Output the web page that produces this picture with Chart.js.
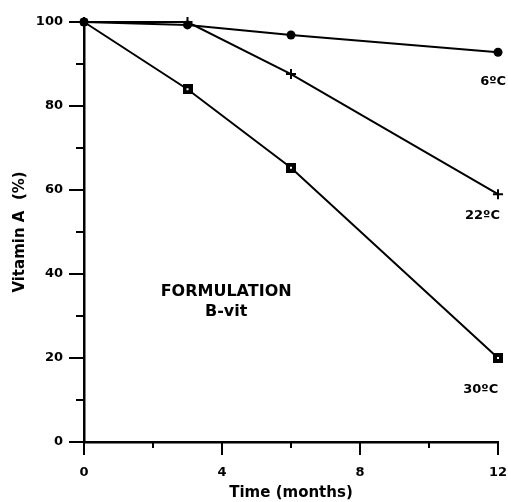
<!DOCTYPE html>
<html>
<head>
<meta charset="utf-8">
<script src="https://cdn.jsdelivr.net/npm/chart.js@4.4.1/dist/chart.umd.min.js"></script>
<style>
html,body{margin:0;padding:0;background:#fff;}
#wrap{width:508px;height:502px;position:relative;}
</style>
</head>
<body>
<div id="wrap"><canvas id="c" width="508" height="502"></canvas></div>
<script>
// ---- data ----
const months = [0, 3, 6, 12];
const temp6 = [100, 99.3, 96.9, 92.8];
const temp22 = [100, 100, 87.6, 59];
const temp30 = [100, 84, 65.3, 20];
const seriesNames = ['6\u00BAC', '22\u00BAC', '30\u00BAC'];
const yTicksMajor = [0, 20, 40, 60, 80, 100];
const xTicksMajor = [0, 4, 8, 12];

const FONT = "'DejaVu Sans', Arial, sans-serif";

function pts(ys){ return months.map((m,i)=>({x:m,y:ys[i]})); }

// square marker with tiny white centre
const sq = document.createElement('canvas');
sq.width = 10; sq.height = 10;
(function(){const g=sq.getContext('2d');g.fillStyle='#000';g.fillRect(0,0,10,10);g.fillStyle='#fff';g.fillRect(4,4,2,2);})();

const annot = {
  id:'annot',
  afterDraw(chart){
    const ctx = chart.ctx, xs = chart.scales.x, ys = chart.scales.y;
    ctx.save();
    ctx.strokeStyle = '#000'; ctx.lineWidth = 2;
    for (let v = 0; v <= 100; v += 10) {
      const p = Math.round(ys.getPixelForValue(v));
      const len = (v % 20 === 0) ? 15 : 8;
      ctx.beginPath(); ctx.moveTo(xs.left - len, p); ctx.lineTo(xs.left, p); ctx.stroke();
    }
    for (let v = 0; v <= 12; v += 2) {
      const p = Math.round(xs.getPixelForValue(v));
      const len = (v % 4 === 0) ? 13 : 6;
      ctx.beginPath(); ctx.moveTo(p, ys.bottom); ctx.lineTo(p, ys.bottom + len); ctx.stroke();
    }
    ctx.fillStyle = '#000';
    ctx.textAlign = 'center'; ctx.textBaseline = 'middle';
    ctx.font = 'bold 13px ' + FONT;
    const labPos = [[11.86, 85.7], [11.55, 54], [11.5, 12.4]];
    seriesNames.forEach((t,i)=>{
      ctx.fillText(t, xs.getPixelForValue(labPos[i][0]), ys.getPixelForValue(labPos[i][1]));
    });
    ctx.font = 'bold 16px ' + FONT;
    ctx.fillText('FORMULATION', xs.getPixelForValue(4.12), ys.getPixelForValue(35.7));
    ctx.fillText('B-vit', xs.getPixelForValue(4.12), ys.getPixelForValue(31));
    ctx.restore();
  }
};

new Chart(document.getElementById('c'), {
  type: 'line',
  data: {
    datasets: [
      { label: seriesNames[0], data: pts(temp6), borderColor:'#000', backgroundColor:'#000', borderWidth:2,
        pointStyle:'circle', pointRadius:4.5, pointBorderWidth:0, clip:false, tension:0 },
      { label: seriesNames[1], data: pts(temp22), borderColor:'#000', backgroundColor:'#000', borderWidth:2,
        pointStyle:'cross', pointRadius:5, pointBorderWidth:2, clip:false, tension:0 },
      { label: seriesNames[2], data: pts(temp30), borderColor:'#000', backgroundColor:'#000', borderWidth:2,
        pointStyle:(c)=> c.dataIndex === 0 ? 'rect' : sq, pointRadius:5, pointBorderWidth:0, clip:false, tension:0 }
    ]
  },
  options: {
    responsive:false, animation:false, devicePixelRatio:1,
    layout:{ padding:{ left:0, top:22, right:10, bottom:0 } },
    plugins:{ legend:{display:false}, tooltip:{enabled:false} },
    scales:{
      x:{
        type:'linear', min:0, max:12,
        afterFit(s){ s.height = 60; s.paddingLeft = 0; s.paddingRight = 0; },
        afterBuildTicks(s){ s.ticks = xTicksMajor.map(v=>({value:v})); },
        grid:{ drawOnChartArea:false, drawTicks:false },
        border:{ display:true, color:'#000', width:2.5 },
        ticks:{ padding:23, color:'#000', font:{family:FONT, size:13, weight:'bold'} },
        title:{ display:true, text:'Time (months)', color:'#000', padding:{top:0,bottom:0},
          font:{family:FONT, size:15, weight:'bold'} }
      },
      y:{
        type:'linear', min:0, max:100,
        afterFit(s){ s.width = 84; s.paddingTop = 0; s.paddingBottom = 0; },
        afterBuildTicks(s){ s.ticks = yTicksMajor.map(v=>({value:v})); },
        grid:{ drawOnChartArea:false, drawTicks:false },
        border:{ display:true, color:'#000', width:2.5 },
        ticks:{ padding:21, color:'#000', font:{family:FONT, size:13, weight:'bold'} },
        title:{ display:true, text:'Vitamin A  (%)', color:'#000', padding:{top:11,bottom:0},
          font:{family:FONT, size:15, weight:'bold'} }
      }
    }
  },
  plugins:[annot]
});
</script>
</body>
</html>
